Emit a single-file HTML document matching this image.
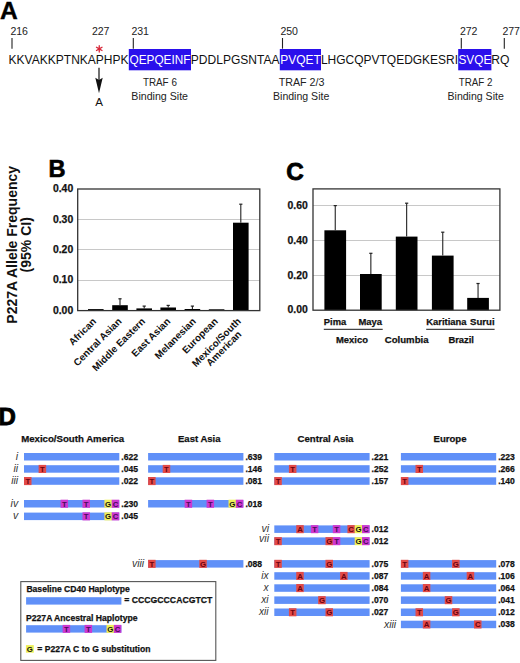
<!DOCTYPE html>
<html><head><meta charset="utf-8"><style>
html,body{margin:0;padding:0;background:#fff;width:520px;height:663px;overflow:hidden;}
svg{display:block;font-family:"Liberation Sans", sans-serif;}
</style></head><body>
<svg width="520" height="663" viewBox="0 0 520 663">
<rect width="520" height="663" fill="#fff"/>
<text x="-0.1" y="19.1" font-size="24.6" font-weight="bold" text-anchor="start" fill="#000" stroke="#000" stroke-width="0.4">A</text>
<text x="10.4" y="35.2" font-size="10.0" font-weight="normal" text-anchor="start" fill="#222" textLength="17.6" lengthAdjust="spacingAndGlyphs">216</text>
<text x="91.9" y="35.2" font-size="10.0" font-weight="normal" text-anchor="start" fill="#222" textLength="17.6" lengthAdjust="spacingAndGlyphs">227</text>
<text x="131.4" y="35.2" font-size="10.0" font-weight="normal" text-anchor="start" fill="#222" textLength="17.6" lengthAdjust="spacingAndGlyphs">231</text>
<text x="280.4" y="35.2" font-size="10.0" font-weight="normal" text-anchor="start" fill="#222" textLength="17.6" lengthAdjust="spacingAndGlyphs">250</text>
<text x="459.9" y="35.2" font-size="10.0" font-weight="normal" text-anchor="start" fill="#222" textLength="17.6" lengthAdjust="spacingAndGlyphs">272</text>
<text x="502.4" y="35.2" font-size="10.0" font-weight="normal" text-anchor="start" fill="#222" textLength="17.6" lengthAdjust="spacingAndGlyphs">277</text>
<line x1="12" y1="38" x2="12" y2="48.7" stroke="#222" stroke-width="1.1"/>
<line x1="133.3" y1="38" x2="133.3" y2="48.7" stroke="#222" stroke-width="1.1"/>
<line x1="282.5" y1="38" x2="282.5" y2="48.7" stroke="#222" stroke-width="1.1"/>
<line x1="461.3" y1="38" x2="461.3" y2="48.7" stroke="#222" stroke-width="1.1"/>
<line x1="504.3" y1="38" x2="504.3" y2="48.7" stroke="#222" stroke-width="1.1"/>
<rect x="128.80" y="49.00" width="62.20" height="21.30" fill="#2a10ec" />
<rect x="279.80" y="49.00" width="41.20" height="21.30" fill="#2a10ec" />
<rect x="458.20" y="49.00" width="33.20" height="21.30" fill="#2a10ec" />
<text x="8.6" y="63.6" font-size="12" font-weight="normal" text-anchor="start" fill="#111" textLength="120.0" lengthAdjust="spacingAndGlyphs">KKVAKKPTNKAPHPK</text>
<text x="129.5" y="63.6" font-size="12" font-weight="normal" text-anchor="start" fill="#fff" textLength="61.0" lengthAdjust="spacingAndGlyphs">QEPQEINF</text>
<text x="190.8" y="63.6" font-size="12" font-weight="normal" text-anchor="start" fill="#111" textLength="88.7" lengthAdjust="spacingAndGlyphs">PDDLPGSNTAA</text>
<text x="280.3" y="63.6" font-size="12" font-weight="normal" text-anchor="start" fill="#fff" textLength="40.6" lengthAdjust="spacingAndGlyphs">PVQET</text>
<text x="320.9" y="63.6" font-size="12" font-weight="normal" text-anchor="start" fill="#111" textLength="137.2" lengthAdjust="spacingAndGlyphs">LHGCQPVTQEDGKESRI</text>
<text x="458.5" y="63.6" font-size="12" font-weight="normal" text-anchor="start" fill="#fff" textLength="32.8" lengthAdjust="spacingAndGlyphs">SVQE</text>
<text x="491.3" y="63.6" font-size="12" font-weight="normal" text-anchor="start" fill="#111" textLength="18.2" lengthAdjust="spacingAndGlyphs">RQ</text>
<path d="M99.25 48.85 L99.25 45.65 M99.25 48.85 L102.02 47.25 M99.25 48.85 L102.02 50.45 M99.25 48.85 L99.25 52.05 M99.25 48.85 L96.48 50.45 M99.25 48.85 L96.48 47.25 " stroke="#d8283a" stroke-width="1.3" stroke-linecap="round" fill="none"/>
<line x1="99" y1="67.8" x2="99" y2="82" stroke="#111" stroke-width="1.2"/>
<path d="M95.3 77.8 L99 93.3 L102.7 77.8 L99 80.0 Z" fill="#111"/>
<text x="99.1" y="106.4" font-size="11.6" font-weight="normal" text-anchor="middle" fill="#111">A</text>
<text x="142.9" y="86.3" font-size="10.2" font-weight="normal" text-anchor="start" fill="#222" textLength="34" lengthAdjust="spacingAndGlyphs">TRAF 6</text>
<text x="131.3" y="99.8" font-size="10.2" font-weight="normal" text-anchor="start" fill="#222" textLength="56.7" lengthAdjust="spacingAndGlyphs">Binding Site</text>
<text x="278.7" y="86.3" font-size="10.2" font-weight="normal" text-anchor="start" fill="#222" textLength="45.8" lengthAdjust="spacingAndGlyphs">TRAF 2/3</text>
<text x="273" y="99.8" font-size="10.2" font-weight="normal" text-anchor="start" fill="#222" textLength="56.3" lengthAdjust="spacingAndGlyphs">Binding Site</text>
<text x="458.7" y="86.3" font-size="10.2" font-weight="normal" text-anchor="start" fill="#222" textLength="33.8" lengthAdjust="spacingAndGlyphs">TRAF 2</text>
<text x="447.5" y="99.8" font-size="10.2" font-weight="normal" text-anchor="start" fill="#222" textLength="56.3" lengthAdjust="spacingAndGlyphs">Binding Site</text>
<text x="48.4" y="176.6" font-size="23.6" font-weight="bold" text-anchor="start" fill="#000" stroke="#000" stroke-width="0.6">B</text>
<g transform="translate(17.2,244.8) rotate(-90)"><text x="0" y="0" font-size="14" font-weight="bold" text-anchor="middle" fill="#111">P227A Allele Frequency</text></g>
<g transform="translate(31.4,244.8) rotate(-90)"><text x="0" y="0" font-size="14" font-weight="bold" text-anchor="middle" fill="#111">(95% CI)</text></g>
<line x1="77.7" y1="280.5" x2="259.8" y2="280.5" stroke="#c8c8c8" stroke-width="1"/>
<line x1="77.7" y1="249.5" x2="259.8" y2="249.5" stroke="#c8c8c8" stroke-width="1"/>
<line x1="77.7" y1="219.5" x2="259.8" y2="219.5" stroke="#c8c8c8" stroke-width="1"/>
<text x="73.2" y="192.1" font-size="10.6" font-weight="bold" text-anchor="end" fill="#111" textLength="20.3" lengthAdjust="spacingAndGlyphs" stroke="#111" stroke-width="0.25">0.40</text>
<text x="73.2" y="222.50000000000003" font-size="10.6" font-weight="bold" text-anchor="end" fill="#111" textLength="20.3" lengthAdjust="spacingAndGlyphs" stroke="#111" stroke-width="0.25">0.30</text>
<text x="73.2" y="252.9" font-size="10.6" font-weight="bold" text-anchor="end" fill="#111" textLength="20.3" lengthAdjust="spacingAndGlyphs" stroke="#111" stroke-width="0.25">0.20</text>
<text x="73.2" y="283.3" font-size="10.6" font-weight="bold" text-anchor="end" fill="#111" textLength="20.3" lengthAdjust="spacingAndGlyphs" stroke="#111" stroke-width="0.25">0.10</text>
<text x="73.2" y="313.70000000000005" font-size="10.6" font-weight="bold" text-anchor="end" fill="#111" textLength="20.3" lengthAdjust="spacingAndGlyphs" stroke="#111" stroke-width="0.25">0.00</text>
<rect x="88.00" y="309.10" width="15.60" height="1.50" fill="#000" />
<rect x="112.20" y="305.20" width="15.60" height="5.40" fill="#000" />
<line x1="120.0" y1="298.8" x2="120.0" y2="305.2" stroke="#222" stroke-width="1.1"/>
<line x1="118.4" y1="298.8" x2="121.6" y2="298.8" stroke="#222" stroke-width="1.2"/>
<rect x="136.40" y="308.40" width="15.60" height="2.20" fill="#000" />
<line x1="144.20000000000002" y1="306.1" x2="144.20000000000002" y2="308.4" stroke="#222" stroke-width="1.1"/>
<line x1="142.60000000000002" y1="306.1" x2="145.8" y2="306.1" stroke="#222" stroke-width="1.2"/>
<rect x="160.40" y="307.50" width="15.60" height="3.10" fill="#000" />
<line x1="168.20000000000002" y1="305.4" x2="168.20000000000002" y2="307.5" stroke="#222" stroke-width="1.1"/>
<line x1="166.60000000000002" y1="305.4" x2="169.8" y2="305.4" stroke="#222" stroke-width="1.2"/>
<rect x="184.60" y="309.00" width="15.60" height="1.60" fill="#000" />
<line x1="192.4" y1="306.1" x2="192.4" y2="309.0" stroke="#222" stroke-width="1.1"/>
<line x1="190.8" y1="306.1" x2="194.0" y2="306.1" stroke="#222" stroke-width="1.2"/>
<rect x="208.80" y="309.30" width="15.60" height="1.30" fill="#000" />
<rect x="233.00" y="222.70" width="15.60" height="87.90" fill="#000" />
<line x1="240.8" y1="204.2" x2="240.8" y2="222.7" stroke="#222" stroke-width="1.1"/>
<line x1="239.20000000000002" y1="204.2" x2="242.4" y2="204.2" stroke="#222" stroke-width="1.2"/>
<rect x="77.7" y="189.0" width="182.10000000000002" height="121.60000000000002" fill="none" stroke="#333" stroke-width="1.3"/>
<g transform="translate(96.8,322.0) rotate(-45)"><text x="0" y="0" font-size="9.9" font-weight="bold" text-anchor="end" fill="#111">African</text></g>
<g transform="translate(122.2,322.0) rotate(-45)"><text x="0" y="0" font-size="9.9" font-weight="bold" text-anchor="end" fill="#111">Central Asian</text></g>
<g transform="translate(145.8,322.0) rotate(-45)"><text x="0" y="0" font-size="9.9" font-weight="bold" text-anchor="end" fill="#111">Middle Eastern</text></g>
<g transform="translate(171.0,322.0) rotate(-45)"><text x="0" y="0" font-size="9.9" font-weight="bold" text-anchor="end" fill="#111">East Asian</text></g>
<g transform="translate(196.4,322.0) rotate(-45)"><text x="0" y="0" font-size="9.9" font-weight="bold" text-anchor="end" fill="#111">Melanesian</text></g>
<g transform="translate(218.4,322.0) rotate(-45)"><text x="0" y="0" font-size="9.9" font-weight="bold" text-anchor="end" fill="#111">European</text></g>
<g transform="translate(241.4,322.0) rotate(-45)"><text x="0" y="0" font-size="9.9" font-weight="bold" text-anchor="end" fill="#111">Mexico/South</text><text x="-8.6" y="9.6" font-size="9.9" font-weight="bold" text-anchor="end" fill="#111">American</text></g>
<text x="286.3" y="179.6" font-size="24.2" font-weight="bold" text-anchor="start" fill="#000" stroke="#000" stroke-width="0.8">C</text>
<line x1="313.0" y1="275.5" x2="499.9" y2="275.5" stroke="#c8c8c8" stroke-width="1"/>
<line x1="313.0" y1="240.5" x2="499.9" y2="240.5" stroke="#c8c8c8" stroke-width="1"/>
<line x1="313.0" y1="205.5" x2="499.9" y2="205.5" stroke="#c8c8c8" stroke-width="1"/>
<text x="307.8" y="209.09" font-size="10.6" font-weight="bold" text-anchor="end" fill="#111" textLength="20.3" lengthAdjust="spacingAndGlyphs" stroke="#111" stroke-width="0.25">0.60</text>
<text x="307.8" y="243.85999999999999" font-size="10.6" font-weight="bold" text-anchor="end" fill="#111" textLength="20.3" lengthAdjust="spacingAndGlyphs" stroke="#111" stroke-width="0.25">0.40</text>
<text x="307.8" y="278.63000000000005" font-size="10.6" font-weight="bold" text-anchor="end" fill="#111" textLength="20.3" lengthAdjust="spacingAndGlyphs" stroke="#111" stroke-width="0.25">0.20</text>
<text x="307.8" y="313.40000000000003" font-size="10.6" font-weight="bold" text-anchor="end" fill="#111" textLength="20.3" lengthAdjust="spacingAndGlyphs" stroke="#111" stroke-width="0.25">0.00</text>
<rect x="324.40" y="230.30" width="21.70" height="79.90" fill="#000" />
<line x1="335.25" y1="205.6" x2="335.25" y2="230.3" stroke="#222" stroke-width="1.1"/>
<line x1="333.65" y1="205.6" x2="336.85" y2="205.6" stroke="#222" stroke-width="1.2"/>
<rect x="360.00" y="274.00" width="21.70" height="36.20" fill="#000" />
<line x1="370.85" y1="253.3" x2="370.85" y2="274.0" stroke="#222" stroke-width="1.1"/>
<line x1="369.25" y1="253.3" x2="372.45000000000005" y2="253.3" stroke="#222" stroke-width="1.2"/>
<rect x="395.80" y="236.60" width="21.70" height="73.60" fill="#000" />
<line x1="406.65000000000003" y1="203.2" x2="406.65000000000003" y2="236.6" stroke="#222" stroke-width="1.1"/>
<line x1="405.05" y1="203.2" x2="408.25000000000006" y2="203.2" stroke="#222" stroke-width="1.2"/>
<rect x="431.90" y="255.60" width="21.70" height="54.60" fill="#000" />
<line x1="442.75" y1="232.2" x2="442.75" y2="255.6" stroke="#222" stroke-width="1.1"/>
<line x1="441.15" y1="232.2" x2="444.35" y2="232.2" stroke="#222" stroke-width="1.2"/>
<rect x="467.20" y="297.90" width="21.70" height="12.30" fill="#000" />
<line x1="478.05" y1="283.5" x2="478.05" y2="297.9" stroke="#222" stroke-width="1.1"/>
<line x1="476.45" y1="283.5" x2="479.65000000000003" y2="283.5" stroke="#222" stroke-width="1.2"/>
<rect x="313.0" y="188.9" width="186.89999999999998" height="121.29999999999998" fill="none" stroke="#333" stroke-width="1.3"/>
<text x="323.8" y="325" font-size="9.6" font-weight="bold" text-anchor="start" fill="#111" textLength="22.4" lengthAdjust="spacingAndGlyphs" stroke="#111" stroke-width="0.25">Pima</text>
<text x="358.5" y="325" font-size="9.6" font-weight="bold" text-anchor="start" fill="#111" textLength="23.6" lengthAdjust="spacingAndGlyphs" stroke="#111" stroke-width="0.25">Maya</text>
<text x="426.2" y="325" font-size="9.6" font-weight="bold" text-anchor="start" fill="#111" textLength="40.3" lengthAdjust="spacingAndGlyphs" stroke="#111" stroke-width="0.25">Karitiana</text>
<text x="470" y="325" font-size="9.6" font-weight="bold" text-anchor="start" fill="#111" textLength="24.6" lengthAdjust="spacingAndGlyphs" stroke="#111" stroke-width="0.25">Surui</text>
<line x1="323.8" y1="329.3" x2="382.7" y2="329.3" stroke="#444" stroke-width="1.2"/>
<line x1="426.2" y1="329.3" x2="494.6" y2="329.3" stroke="#444" stroke-width="1.2"/>
<text x="336" y="343" font-size="9.6" font-weight="bold" text-anchor="start" fill="#111" textLength="32" lengthAdjust="spacingAndGlyphs" stroke="#111" stroke-width="0.25">Mexico</text>
<text x="384.8" y="343" font-size="9.6" font-weight="bold" text-anchor="start" fill="#111" textLength="43.7" lengthAdjust="spacingAndGlyphs" stroke="#111" stroke-width="0.25">Columbia</text>
<text x="448.4" y="343" font-size="9.6" font-weight="bold" text-anchor="start" fill="#111" textLength="25.6" lengthAdjust="spacingAndGlyphs" stroke="#111" stroke-width="0.25">Brazil</text>
<text x="-1.6" y="424.8" font-size="24" font-weight="bold" text-anchor="start" fill="#000" stroke="#000" stroke-width="0.9">D</text>
<text x="21.2" y="442" font-size="9.6" font-weight="bold" text-anchor="start" fill="#111" textLength="103" lengthAdjust="spacingAndGlyphs" stroke="#111" stroke-width="0.25">Mexico/South America</text>
<text x="178" y="442" font-size="9.6" font-weight="bold" text-anchor="start" fill="#111" textLength="42.5" lengthAdjust="spacingAndGlyphs" stroke="#111" stroke-width="0.25">East Asia</text>
<text x="297.5" y="442" font-size="9.6" font-weight="bold" text-anchor="start" fill="#111" textLength="56" lengthAdjust="spacingAndGlyphs" stroke="#111" stroke-width="0.25">Central Asia</text>
<text x="433.5" y="442" font-size="9.6" font-weight="bold" text-anchor="start" fill="#111" textLength="33" lengthAdjust="spacingAndGlyphs" stroke="#111" stroke-width="0.25">Europe</text>
<rect x="24.00" y="453.00" width="95.30" height="7.50" fill="#6090f8" />
<text x="121.3" y="459.5" font-size="9.0" font-weight="bold" text-anchor="start" fill="#111" textLength="16.7" lengthAdjust="spacingAndGlyphs" stroke="#111" stroke-width="0.25">.622</text>
<rect x="24.00" y="465.20" width="95.30" height="7.50" fill="#6090f8" />
<rect x="38.62" y="464.90" width="7.51" height="8.10" fill="#e24a48" />
<text x="42.38" y="471.7" font-size="7.8" font-weight="bold" text-anchor="middle" fill="#6a0010">T</text>
<text x="121.3" y="471.7" font-size="9.0" font-weight="bold" text-anchor="start" fill="#111" textLength="16.7" lengthAdjust="spacingAndGlyphs" stroke="#111" stroke-width="0.25">.045</text>
<rect x="24.00" y="477.30" width="95.30" height="7.50" fill="#6090f8" />
<rect x="24.00" y="477.00" width="7.51" height="8.10" fill="#e24a48" />
<text x="27.76" y="483.8" font-size="7.8" font-weight="bold" text-anchor="middle" fill="#6a0010">T</text>
<text x="121.3" y="483.8" font-size="9.0" font-weight="bold" text-anchor="start" fill="#111" textLength="16.7" lengthAdjust="spacingAndGlyphs" stroke="#111" stroke-width="0.25">.022</text>
<rect x="24.00" y="500.00" width="95.30" height="7.50" fill="#6090f8" />
<rect x="60.55" y="499.70" width="7.51" height="8.10" fill="#cc38d0" />
<text x="64.3" y="506.5" font-size="7.8" font-weight="bold" text-anchor="middle" fill="#4a0a5a">T</text>
<rect x="82.48" y="499.70" width="7.51" height="8.10" fill="#cc38d0" />
<text x="86.23" y="506.5" font-size="7.8" font-weight="bold" text-anchor="middle" fill="#4a0a5a">T</text>
<rect x="104.41" y="499.70" width="7.51" height="8.10" fill="#eef058" />
<text x="108.16" y="506.5" font-size="7.8" font-weight="bold" text-anchor="middle" fill="#111">G</text>
<rect x="111.72" y="499.70" width="7.51" height="8.10" fill="#cc38d0" />
<text x="115.47" y="506.5" font-size="7.8" font-weight="bold" text-anchor="middle" fill="#4a0a5a">C</text>
<text x="121.3" y="506.5" font-size="9.0" font-weight="bold" text-anchor="start" fill="#111" textLength="16.7" lengthAdjust="spacingAndGlyphs" stroke="#111" stroke-width="0.25">.230</text>
<rect x="24.00" y="512.60" width="95.30" height="7.50" fill="#6090f8" />
<rect x="82.48" y="512.30" width="7.51" height="8.10" fill="#cc38d0" />
<text x="86.23" y="519.1" font-size="7.8" font-weight="bold" text-anchor="middle" fill="#4a0a5a">T</text>
<rect x="104.41" y="512.30" width="7.51" height="8.10" fill="#eef058" />
<text x="108.16" y="519.1" font-size="7.8" font-weight="bold" text-anchor="middle" fill="#111">G</text>
<rect x="111.72" y="512.30" width="7.51" height="8.10" fill="#cc38d0" />
<text x="115.47" y="519.1" font-size="7.8" font-weight="bold" text-anchor="middle" fill="#4a0a5a">C</text>
<text x="121.3" y="519.1" font-size="9.0" font-weight="bold" text-anchor="start" fill="#111" textLength="16.7" lengthAdjust="spacingAndGlyphs" stroke="#111" stroke-width="0.25">.045</text>
<rect x="148.10" y="453.00" width="95.30" height="7.50" fill="#6090f8" />
<text x="245.4" y="459.5" font-size="9.0" font-weight="bold" text-anchor="start" fill="#111" textLength="16.7" lengthAdjust="spacingAndGlyphs" stroke="#111" stroke-width="0.25">.639</text>
<rect x="148.10" y="465.20" width="95.30" height="7.50" fill="#6090f8" />
<rect x="162.72" y="464.90" width="7.51" height="8.10" fill="#e24a48" />
<text x="166.47" y="471.7" font-size="7.8" font-weight="bold" text-anchor="middle" fill="#6a0010">T</text>
<text x="245.4" y="471.7" font-size="9.0" font-weight="bold" text-anchor="start" fill="#111" textLength="16.7" lengthAdjust="spacingAndGlyphs" stroke="#111" stroke-width="0.25">.146</text>
<rect x="148.10" y="477.30" width="95.30" height="7.50" fill="#6090f8" />
<rect x="148.10" y="477.00" width="7.51" height="8.10" fill="#e24a48" />
<text x="151.85" y="483.8" font-size="7.8" font-weight="bold" text-anchor="middle" fill="#6a0010">T</text>
<text x="245.4" y="483.8" font-size="9.0" font-weight="bold" text-anchor="start" fill="#111" textLength="16.7" lengthAdjust="spacingAndGlyphs" stroke="#111" stroke-width="0.25">.081</text>
<rect x="148.10" y="500.00" width="95.30" height="7.50" fill="#6090f8" />
<rect x="184.65" y="499.70" width="7.51" height="8.10" fill="#cc38d0" />
<text x="188.4" y="506.5" font-size="7.8" font-weight="bold" text-anchor="middle" fill="#4a0a5a">T</text>
<rect x="206.58" y="499.70" width="7.51" height="8.10" fill="#cc38d0" />
<text x="210.33" y="506.5" font-size="7.8" font-weight="bold" text-anchor="middle" fill="#4a0a5a">T</text>
<rect x="228.51" y="499.70" width="7.51" height="8.10" fill="#eef058" />
<text x="232.26" y="506.5" font-size="7.8" font-weight="bold" text-anchor="middle" fill="#111">G</text>
<rect x="235.82" y="499.70" width="7.51" height="8.10" fill="#cc38d0" />
<text x="239.57" y="506.5" font-size="7.8" font-weight="bold" text-anchor="middle" fill="#4a0a5a">C</text>
<text x="245.4" y="506.5" font-size="9.0" font-weight="bold" text-anchor="start" fill="#111" textLength="16.7" lengthAdjust="spacingAndGlyphs" stroke="#111" stroke-width="0.25">.018</text>
<rect x="148.10" y="560.10" width="95.30" height="7.50" fill="#6090f8" />
<rect x="148.10" y="559.80" width="7.51" height="8.10" fill="#e24a48" />
<text x="151.85" y="566.6" font-size="7.8" font-weight="bold" text-anchor="middle" fill="#6a0010">T</text>
<rect x="199.27" y="559.80" width="7.51" height="8.10" fill="#e24a48" />
<text x="203.02" y="566.6" font-size="7.8" font-weight="bold" text-anchor="middle" fill="#6a0010">G</text>
<text x="245.4" y="566.6" font-size="9.0" font-weight="bold" text-anchor="start" fill="#111" textLength="16.7" lengthAdjust="spacingAndGlyphs" stroke="#111" stroke-width="0.25">.088</text>
<rect x="274.30" y="453.00" width="95.30" height="7.50" fill="#6090f8" />
<text x="371.6" y="459.5" font-size="9.0" font-weight="bold" text-anchor="start" fill="#111" textLength="16.7" lengthAdjust="spacingAndGlyphs" stroke="#111" stroke-width="0.25">.221</text>
<rect x="274.30" y="465.20" width="95.30" height="7.50" fill="#6090f8" />
<rect x="288.92" y="464.90" width="7.51" height="8.10" fill="#e24a48" />
<text x="292.68" y="471.7" font-size="7.8" font-weight="bold" text-anchor="middle" fill="#6a0010">T</text>
<text x="371.6" y="471.7" font-size="9.0" font-weight="bold" text-anchor="start" fill="#111" textLength="16.7" lengthAdjust="spacingAndGlyphs" stroke="#111" stroke-width="0.25">.252</text>
<rect x="274.30" y="477.30" width="95.30" height="7.50" fill="#6090f8" />
<rect x="274.30" y="477.00" width="7.51" height="8.10" fill="#e24a48" />
<text x="278.06" y="483.8" font-size="7.8" font-weight="bold" text-anchor="middle" fill="#6a0010">T</text>
<text x="371.6" y="483.8" font-size="9.0" font-weight="bold" text-anchor="start" fill="#111" textLength="16.7" lengthAdjust="spacingAndGlyphs" stroke="#111" stroke-width="0.25">.157</text>
<rect x="274.30" y="525.40" width="95.30" height="7.50" fill="#6090f8" />
<rect x="296.23" y="525.10" width="7.51" height="8.10" fill="#e24a48" />
<text x="299.99" y="531.9" font-size="7.8" font-weight="bold" text-anchor="middle" fill="#6a0010">A</text>
<rect x="310.85" y="525.10" width="7.51" height="8.10" fill="#cc38d0" />
<text x="314.61" y="531.9" font-size="7.8" font-weight="bold" text-anchor="middle" fill="#4a0a5a">T</text>
<rect x="332.78" y="525.10" width="7.51" height="8.10" fill="#cc38d0" />
<text x="336.54" y="531.9" font-size="7.8" font-weight="bold" text-anchor="middle" fill="#4a0a5a">T</text>
<rect x="347.40" y="525.10" width="7.51" height="8.10" fill="#e24a48" />
<text x="351.15" y="531.9" font-size="7.8" font-weight="bold" text-anchor="middle" fill="#6a0010">C</text>
<rect x="354.71" y="525.10" width="7.51" height="8.10" fill="#eef058" />
<text x="358.47" y="531.9" font-size="7.8" font-weight="bold" text-anchor="middle" fill="#111">G</text>
<rect x="362.02" y="525.10" width="7.51" height="8.10" fill="#cc38d0" />
<text x="365.77" y="531.9" font-size="7.8" font-weight="bold" text-anchor="middle" fill="#4a0a5a">C</text>
<text x="371.6" y="531.9" font-size="9.0" font-weight="bold" text-anchor="start" fill="#111" textLength="16.7" lengthAdjust="spacingAndGlyphs" stroke="#111" stroke-width="0.25">.012</text>
<rect x="274.30" y="537.40" width="95.30" height="7.50" fill="#6090f8" />
<rect x="274.30" y="537.10" width="7.51" height="8.10" fill="#e24a48" />
<text x="278.06" y="543.9" font-size="7.8" font-weight="bold" text-anchor="middle" fill="#6a0010">T</text>
<rect x="325.47" y="537.10" width="7.51" height="8.10" fill="#e24a48" />
<text x="329.23" y="543.9" font-size="7.8" font-weight="bold" text-anchor="middle" fill="#6a0010">G</text>
<rect x="332.78" y="537.10" width="7.51" height="8.10" fill="#cc38d0" />
<text x="336.54" y="543.9" font-size="7.8" font-weight="bold" text-anchor="middle" fill="#4a0a5a">T</text>
<rect x="354.71" y="537.10" width="7.51" height="8.10" fill="#eef058" />
<text x="358.47" y="543.9" font-size="7.8" font-weight="bold" text-anchor="middle" fill="#111">G</text>
<rect x="362.02" y="537.10" width="7.51" height="8.10" fill="#cc38d0" />
<text x="365.77" y="543.9" font-size="7.8" font-weight="bold" text-anchor="middle" fill="#4a0a5a">C</text>
<text x="371.6" y="543.9" font-size="9.0" font-weight="bold" text-anchor="start" fill="#111" textLength="16.7" lengthAdjust="spacingAndGlyphs" stroke="#111" stroke-width="0.25">.012</text>
<rect x="274.30" y="560.10" width="95.30" height="7.50" fill="#6090f8" />
<rect x="274.30" y="559.80" width="7.51" height="8.10" fill="#e24a48" />
<text x="278.06" y="566.6" font-size="7.8" font-weight="bold" text-anchor="middle" fill="#6a0010">T</text>
<rect x="325.47" y="559.80" width="7.51" height="8.10" fill="#e24a48" />
<text x="329.23" y="566.6" font-size="7.8" font-weight="bold" text-anchor="middle" fill="#6a0010">G</text>
<text x="371.6" y="566.6" font-size="9.0" font-weight="bold" text-anchor="start" fill="#111" textLength="16.7" lengthAdjust="spacingAndGlyphs" stroke="#111" stroke-width="0.25">.075</text>
<rect x="274.30" y="572.20" width="95.30" height="7.50" fill="#6090f8" />
<rect x="296.23" y="571.90" width="7.51" height="8.10" fill="#e24a48" />
<text x="299.99" y="578.7" font-size="7.8" font-weight="bold" text-anchor="middle" fill="#6a0010">A</text>
<rect x="340.09" y="571.90" width="7.51" height="8.10" fill="#e24a48" />
<text x="343.85" y="578.7" font-size="7.8" font-weight="bold" text-anchor="middle" fill="#6a0010">A</text>
<text x="371.6" y="578.7" font-size="9.0" font-weight="bold" text-anchor="start" fill="#111" textLength="16.7" lengthAdjust="spacingAndGlyphs" stroke="#111" stroke-width="0.25">.087</text>
<rect x="274.30" y="584.30" width="95.30" height="7.50" fill="#6090f8" />
<rect x="296.23" y="584.00" width="7.51" height="8.10" fill="#e24a48" />
<text x="299.99" y="590.8" font-size="7.8" font-weight="bold" text-anchor="middle" fill="#6a0010">A</text>
<text x="371.6" y="590.8" font-size="9.0" font-weight="bold" text-anchor="start" fill="#111" textLength="16.7" lengthAdjust="spacingAndGlyphs" stroke="#111" stroke-width="0.25">.084</text>
<rect x="274.30" y="596.40" width="95.30" height="7.50" fill="#6090f8" />
<rect x="318.16" y="596.10" width="7.51" height="8.10" fill="#e24a48" />
<text x="321.92" y="602.9" font-size="7.8" font-weight="bold" text-anchor="middle" fill="#6a0010">G</text>
<text x="371.6" y="602.9" font-size="9.0" font-weight="bold" text-anchor="start" fill="#111" textLength="16.7" lengthAdjust="spacingAndGlyphs" stroke="#111" stroke-width="0.25">.070</text>
<rect x="274.30" y="608.50" width="95.30" height="7.50" fill="#6090f8" />
<rect x="288.92" y="608.20" width="7.51" height="8.10" fill="#e24a48" />
<text x="292.68" y="615.0" font-size="7.8" font-weight="bold" text-anchor="middle" fill="#6a0010">T</text>
<rect x="325.47" y="608.20" width="7.51" height="8.10" fill="#e24a48" />
<text x="329.23" y="615.0" font-size="7.8" font-weight="bold" text-anchor="middle" fill="#6a0010">G</text>
<text x="371.6" y="615.0" font-size="9.0" font-weight="bold" text-anchor="start" fill="#111" textLength="16.7" lengthAdjust="spacingAndGlyphs" stroke="#111" stroke-width="0.25">.027</text>
<rect x="400.90" y="453.00" width="95.30" height="7.50" fill="#6090f8" />
<text x="498.2" y="459.5" font-size="9.0" font-weight="bold" text-anchor="start" fill="#111" textLength="16.7" lengthAdjust="spacingAndGlyphs" stroke="#111" stroke-width="0.25">.223</text>
<rect x="400.90" y="465.20" width="95.30" height="7.50" fill="#6090f8" />
<rect x="415.52" y="464.90" width="7.51" height="8.10" fill="#e24a48" />
<text x="419.27" y="471.7" font-size="7.8" font-weight="bold" text-anchor="middle" fill="#6a0010">T</text>
<text x="498.2" y="471.7" font-size="9.0" font-weight="bold" text-anchor="start" fill="#111" textLength="16.7" lengthAdjust="spacingAndGlyphs" stroke="#111" stroke-width="0.25">.266</text>
<rect x="400.90" y="477.30" width="95.30" height="7.50" fill="#6090f8" />
<rect x="400.90" y="477.00" width="7.51" height="8.10" fill="#e24a48" />
<text x="404.65" y="483.8" font-size="7.8" font-weight="bold" text-anchor="middle" fill="#6a0010">T</text>
<text x="498.2" y="483.8" font-size="9.0" font-weight="bold" text-anchor="start" fill="#111" textLength="16.7" lengthAdjust="spacingAndGlyphs" stroke="#111" stroke-width="0.25">.140</text>
<rect x="400.90" y="560.10" width="95.30" height="7.50" fill="#6090f8" />
<rect x="400.90" y="559.80" width="7.51" height="8.10" fill="#e24a48" />
<text x="404.65" y="566.6" font-size="7.8" font-weight="bold" text-anchor="middle" fill="#6a0010">T</text>
<rect x="452.07" y="559.80" width="7.51" height="8.10" fill="#e24a48" />
<text x="455.82" y="566.6" font-size="7.8" font-weight="bold" text-anchor="middle" fill="#6a0010">G</text>
<text x="498.2" y="566.6" font-size="9.0" font-weight="bold" text-anchor="start" fill="#111" textLength="16.7" lengthAdjust="spacingAndGlyphs" stroke="#111" stroke-width="0.25">.078</text>
<rect x="400.90" y="572.20" width="95.30" height="7.50" fill="#6090f8" />
<rect x="422.83" y="571.90" width="7.51" height="8.10" fill="#e24a48" />
<text x="426.58" y="578.7" font-size="7.8" font-weight="bold" text-anchor="middle" fill="#6a0010">A</text>
<rect x="466.69" y="571.90" width="7.51" height="8.10" fill="#e24a48" />
<text x="470.44" y="578.7" font-size="7.8" font-weight="bold" text-anchor="middle" fill="#6a0010">A</text>
<text x="498.2" y="578.7" font-size="9.0" font-weight="bold" text-anchor="start" fill="#111" textLength="16.7" lengthAdjust="spacingAndGlyphs" stroke="#111" stroke-width="0.25">.106</text>
<rect x="400.90" y="584.30" width="95.30" height="7.50" fill="#6090f8" />
<rect x="422.83" y="584.00" width="7.51" height="8.10" fill="#e24a48" />
<text x="426.58" y="590.8" font-size="7.8" font-weight="bold" text-anchor="middle" fill="#6a0010">A</text>
<text x="498.2" y="590.8" font-size="9.0" font-weight="bold" text-anchor="start" fill="#111" textLength="16.7" lengthAdjust="spacingAndGlyphs" stroke="#111" stroke-width="0.25">.064</text>
<rect x="400.90" y="596.40" width="95.30" height="7.50" fill="#6090f8" />
<rect x="444.76" y="596.10" width="7.51" height="8.10" fill="#e24a48" />
<text x="448.51" y="602.9" font-size="7.8" font-weight="bold" text-anchor="middle" fill="#6a0010">G</text>
<text x="498.2" y="602.9" font-size="9.0" font-weight="bold" text-anchor="start" fill="#111" textLength="16.7" lengthAdjust="spacingAndGlyphs" stroke="#111" stroke-width="0.25">.041</text>
<rect x="400.90" y="608.50" width="95.30" height="7.50" fill="#6090f8" />
<rect x="415.52" y="608.20" width="7.51" height="8.10" fill="#e24a48" />
<text x="419.27" y="615.0" font-size="7.8" font-weight="bold" text-anchor="middle" fill="#6a0010">T</text>
<rect x="452.07" y="608.20" width="7.51" height="8.10" fill="#e24a48" />
<text x="455.82" y="615.0" font-size="7.8" font-weight="bold" text-anchor="middle" fill="#6a0010">G</text>
<text x="498.2" y="615.0" font-size="9.0" font-weight="bold" text-anchor="start" fill="#111" textLength="16.7" lengthAdjust="spacingAndGlyphs" stroke="#111" stroke-width="0.25">.012</text>
<rect x="400.90" y="620.70" width="95.30" height="7.50" fill="#6090f8" />
<rect x="422.83" y="620.40" width="7.51" height="8.10" fill="#e24a48" />
<text x="426.58" y="627.2" font-size="7.8" font-weight="bold" text-anchor="middle" fill="#6a0010">A</text>
<rect x="474.00" y="620.40" width="7.51" height="8.10" fill="#e24a48" />
<text x="477.75" y="627.2" font-size="7.8" font-weight="bold" text-anchor="middle" fill="#6a0010">C</text>
<text x="498.2" y="627.2" font-size="9.0" font-weight="bold" text-anchor="start" fill="#111" textLength="16.7" lengthAdjust="spacingAndGlyphs" stroke="#111" stroke-width="0.25">.038</text>
<text x="18.2" y="459.8" font-size="10.5" font-weight="normal" text-anchor="end" fill="#333" font-style="italic">i</text>
<text x="18.2" y="472.0" font-size="10.5" font-weight="normal" text-anchor="end" fill="#333" font-style="italic">ii</text>
<text x="18.2" y="484.1" font-size="10.5" font-weight="normal" text-anchor="end" fill="#333" font-style="italic">iii</text>
<text x="18.2" y="506.8" font-size="10.5" font-weight="normal" text-anchor="end" fill="#333" font-style="italic">iv</text>
<text x="18.2" y="519.4" font-size="10.5" font-weight="normal" text-anchor="end" fill="#333" font-style="italic">v</text>
<text x="144.2" y="566.9" font-size="10.5" font-weight="normal" text-anchor="end" fill="#333" font-style="italic">viii</text>
<text x="269.0" y="532.2" font-size="10.5" font-weight="normal" text-anchor="end" fill="#333" font-style="italic">vi</text>
<text x="269.0" y="542.4" font-size="10.5" font-weight="normal" text-anchor="end" fill="#333" font-style="italic">vii</text>
<text x="268.6" y="579.0" font-size="10.2" font-weight="normal" text-anchor="end" fill="#333" font-style="italic">ix</text>
<text x="268.6" y="591.1" font-size="10.2" font-weight="normal" text-anchor="end" fill="#333" font-style="italic">x</text>
<text x="268.6" y="603.2" font-size="10.2" font-weight="normal" text-anchor="end" fill="#333" font-style="italic">xi</text>
<text x="268.6" y="615.3" font-size="10.2" font-weight="normal" text-anchor="end" fill="#333" font-style="italic">xii</text>
<text x="396.2" y="627.5" font-size="10.5" font-weight="normal" text-anchor="end" fill="#333" font-style="italic">xiii</text>
<rect x="20.8" y="581.6" width="195" height="78.8" fill="none" stroke="#555" stroke-width="1.1"/>
<text x="26.4" y="592.3" font-size="8.6" font-weight="bold" text-anchor="start" fill="#111" textLength="103.5" lengthAdjust="spacingAndGlyphs" stroke="#111" stroke-width="0.25">Baseline CD40 Haplotype</text>
<rect x="26.10" y="597.20" width="95.30" height="7.40" fill="#6090f8" />
<text x="124.3" y="603.2" font-size="8.6" font-weight="bold" text-anchor="start" fill="#111" textLength="88" lengthAdjust="spacingAndGlyphs" stroke="#111" stroke-width="0.25">= CCCGCCCACGTCT</text>
<text x="26.0" y="620.9" font-size="8.6" font-weight="bold" text-anchor="start" fill="#111" textLength="111.5" lengthAdjust="spacingAndGlyphs" stroke="#111" stroke-width="0.25">P227A Ancestral Haplotype</text>
<rect x="26.10" y="625.20" width="95.30" height="7.40" fill="#6090f8" />
<rect x="62.65" y="624.90" width="7.51" height="8.00" fill="#cc38d0" />
<text x="66.4" y="631.6" font-size="7.8" font-weight="bold" text-anchor="middle" fill="#4a0a5a">T</text>
<rect x="84.58" y="624.90" width="7.51" height="8.00" fill="#cc38d0" />
<text x="88.33" y="631.6" font-size="7.8" font-weight="bold" text-anchor="middle" fill="#4a0a5a">T</text>
<rect x="106.51" y="624.90" width="7.51" height="8.00" fill="#eef058" />
<text x="110.26" y="631.6" font-size="7.8" font-weight="bold" text-anchor="middle" fill="#111">G</text>
<rect x="113.82" y="624.90" width="7.51" height="8.00" fill="#cc38d0" />
<text x="117.57" y="631.6" font-size="7.8" font-weight="bold" text-anchor="middle" fill="#4a0a5a">C</text>
<rect x="25.90" y="645.10" width="7.90" height="7.60" fill="#eef058" />
<text x="29.85" y="651.8" font-size="7.8" font-weight="bold" text-anchor="middle" fill="#111">G</text>
<text x="37.3" y="652.0" font-size="8.6" font-weight="bold" text-anchor="start" fill="#111" stroke="#111" stroke-width="0.25">= P227A C to G substitution</text>
</svg>
</body></html>
